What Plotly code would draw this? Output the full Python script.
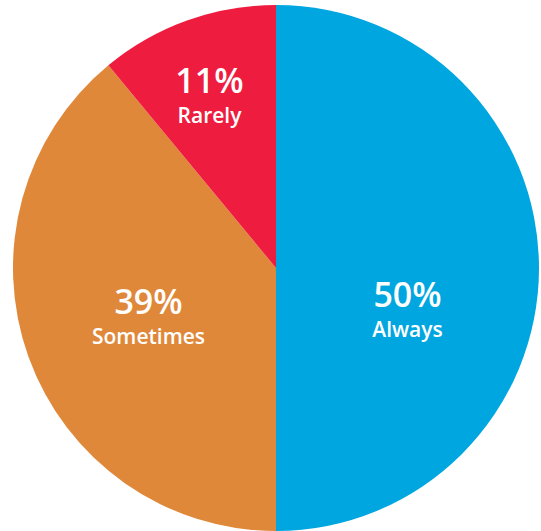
import plotly.graph_objects as go

labels = ["Always", "Sometimes", "Rarely"]
values = [50, 39, 11]
colors = ["#00A6DF", "#E0883A", "#EE1C3E"]

W, H = 541, 531
cx, cy, r = 276, 268, 263

core = "<span style='font-size:34px'>%{value}%</span><br><span style='font-size:21px'>%{label}</span>"
pad = "\u00a0<br>"
templates = [pad * 3 + core, core, pad + core]

fig = go.Figure(go.Pie(
    labels=labels,
    values=values,
    sort=False,
    direction="clockwise",
    rotation=0,
    marker=dict(colors=colors, line=dict(width=0)),
    texttemplate=templates,
    textposition="inside",
    insidetextorientation="horizontal",
    textfont=dict(family="Open Sans", color="white", weight=600, size=23),
    hoverinfo="skip",
    showlegend=False,
    domain=dict(x=[(cx - r) / W, (cx + r) / W], y=[1 - (cy + r) / H, 1 - (cy - r) / H]),
))

fig.update_layout(
    width=W, height=H,
    margin=dict(l=0, r=0, t=0, b=0),
    paper_bgcolor="white",
    plot_bgcolor="white",
)

fig.write_html("out.html")
